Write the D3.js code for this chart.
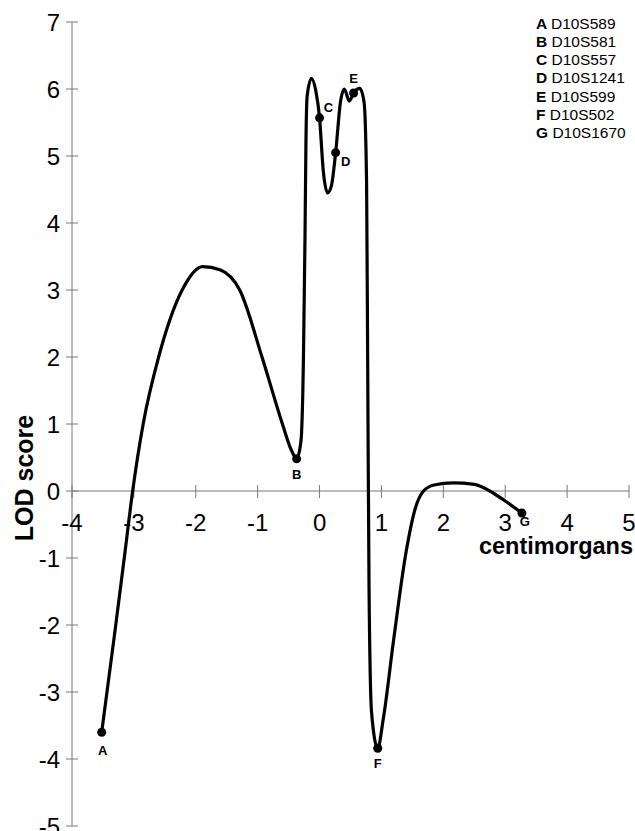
<!DOCTYPE html>
<html>
<head>
<meta charset="utf-8">
<script src="https://cdn.jsdelivr.net/npm/d3@7"></script>
<style>
  body { margin: 0; background: #fff; }
  svg { display: block; font-family: "Liberation Sans", Arial, sans-serif; }
</style>
</head>
<body>
<div class="chart"></div>
<script>
const width = 635
const height = 831

// LOD curve (centimorgans, LOD)
const curveX = [-3.52, -3.3, -3.15, -3.02, -2.85, -2.6, -2.22, -1.89, -1.6, -1.29, -0.93, -0.6, -0.46, -0.37,
  -0.3, -0.26, -0.235, -0.22, -0.2, -0.13, -0.06, 0.0, 0.06, 0.13, 0.19, 0.26, 0.34, 0.4, 0.48, 0.55,
  0.65, 0.72, 0.76, 0.78, 0.8, 0.84, 0.94, 1.03, 1.2, 1.4, 1.55, 1.68, 1.85, 2.15, 2.5, 2.75, 3.0, 3.27]
const curveY = [-3.6, -2.05, -0.96, 0.0, 1.0, 2.0, 3.0, 3.35, 3.3, 3.0, 2.0, 1.0, 0.62, 0.48,
  0.75, 2.0, 3.8, 5.2, 5.9, 6.16, 5.97, 5.57, 4.78, 4.45, 4.55, 5.05, 5.82, 6.0, 5.82, 5.94,
  6.01, 5.8, 4.6, 1.5, -1.5, -3.3, -3.84, -3.4, -2.2, -0.9, -0.25, 0.0, 0.09, 0.12, 0.1, 0.0, -0.15, -0.33]

// markers
const markerIds = ['A', 'B', 'C', 'D', 'E', 'F', 'G']
const markerNames = ['D10S589', 'D10S581', 'D10S557', 'D10S1241', 'D10S599', 'D10S502', 'D10S1670']
const markerX = [-3.52, -0.37, 0.0, 0.26, 0.55, 0.94, 3.27]
const markerY = [-3.6, 0.48, 5.57, 5.05, 5.94, -3.84, -0.33]

const xTicks = [-4, -3, -2, -1, 0, 1, 2, 3, 4, 5]
const yTicks = [7, 6, 5, 4, 3, 2, 1, 0, -1, -2, -3, -4, -5]

const svg = d3.select('.chart')
  .append('svg')
  .attr('width', width)
  .attr('height', height)

const x = d3.scaleLinear().domain([-4, 5]).range([72, 629])
const y = d3.scaleLinear().domain([-5, 7]).range([826, 22])

const axisColor = '#777'

// y axis
svg.append('line')
  .attr('x1', x(-4)).attr('x2', x(-4))
  .attr('y1', y(7)).attr('y2', y(-5))
  .attr('stroke', axisColor)
svg.append('g').selectAll('line')
  .data(yTicks)
  .enter().append('line')
    .attr('x1', x(-4) - 6).attr('x2', x(-4) + 6)
    .attr('y1', d => y(d)).attr('y2', d => y(d))
    .attr('stroke', axisColor)
svg.append('g').selectAll('text')
  .data(yTicks)
  .enter().append('text')
    .attr('x', 60)
    .attr('y', d => y(d))
    .attr('dy', '0.36em')
    .attr('text-anchor', 'end')
    .attr('font-size', 24)
    .text(d => d)

// x axis at LOD 0
svg.append('line')
  .attr('x1', x(-4)).attr('x2', x(5))
  .attr('y1', y(0)).attr('y2', y(0))
  .attr('stroke', axisColor)
svg.append('g').selectAll('line')
  .data(xTicks)
  .enter().append('line')
    .attr('x1', d => x(d)).attr('x2', d => x(d))
    .attr('y1', y(0) - 6).attr('y2', y(0) + 7)
    .attr('stroke', axisColor)
svg.append('g').selectAll('text')
  .data(xTicks)
  .enter().append('text')
    .attr('x', d => x(d))
    .attr('y', 531)
    .attr('text-anchor', 'middle')
    .attr('font-size', 24)
    .text(d => d)

// axis titles
svg.append('text')
  .attr('transform', 'translate(33,478) rotate(-90)')
  .attr('text-anchor', 'middle')
  .attr('font-size', 25)
  .attr('font-weight', 'bold')
  .text('LOD score')

svg.append('text')
  .attr('x', 633)
  .attr('y', 554)
  .attr('text-anchor', 'end')
  .attr('font-size', 23.5)
  .attr('font-weight', 'bold')
  .text('centimorgans')

// curve
const pts = curveX.map((d, i) => [d, curveY[i]])
const line = d3.line()
  .x(d => x(d[0]))
  .y(d => y(d[1]))
  .curve(d3.curveMonotoneX)

svg.append('path')
  .datum(pts)
  .attr('d', line)
  .attr('fill', 'none')
  .attr('stroke', '#000')
  .attr('stroke-width', 3.2)
  .attr('stroke-linejoin', 'round')

// marker dots and letters
const labelOffsets = [[1, 18], [0, 15], [9, -10], [10, 9], [0, -15], [0, 15], [3, 8]]

svg.append('g').selectAll('circle')
  .data(markerIds)
  .enter().append('circle')
    .attr('cx', (d, i) => x(markerX[i]))
    .attr('cy', (d, i) => y(markerY[i]))
    .attr('r', 4.5)
    .attr('fill', '#000')

svg.append('g').selectAll('text')
  .data(markerIds)
  .enter().append('text')
    .attr('x', (d, i) => x(markerX[i]) + labelOffsets[i][0])
    .attr('y', (d, i) => y(markerY[i]) + labelOffsets[i][1])
    .attr('dy', '0.36em')
    .attr('text-anchor', 'middle')
    .attr('font-size', 13)
    .attr('font-weight', 'bold')
    .text(d => d)

// legend
const legend = svg.append('g').selectAll('text')
  .data(markerIds)
  .enter().append('text')
    .attr('x', 536)
    .attr('y', (d, i) => 23 + i * 18.3)
    .attr('dy', '0.36em')
    .attr('font-size', 15.5)
legend.append('tspan')
  .attr('font-weight', 'bold')
  .text(d => d + ' ')
legend.append('tspan')
  .text((d, i) => markerNames[i])
</script>
</body>
</html>
